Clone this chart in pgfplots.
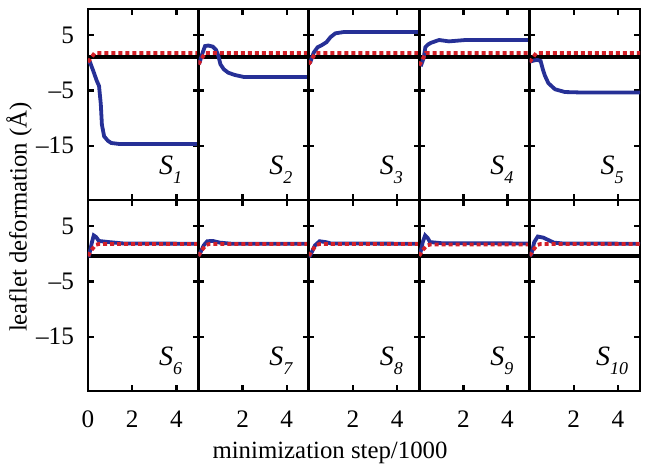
\documentclass[border=0pt]{standalone}
\usepackage{fontspec}
\setmainfont{Liberation Serif}
\usepackage{pgfplots}
\pgfplotsset{compat=1.18}

\definecolor{lineblue}{RGB}{38,48,150}
\definecolor{dotred}{RGB}{212,32,40}

\pgfplotsset{
  panel/.style={
    scale only axis, width=55.2pt, height=95.5pt,
    xmin=0, xmax=5, ymin=-24.8, ymax=9.7,
    axis line style={line width=1.4pt},
    xtick={2,4}, ytick={-15,-5,5},
    xticklabels={}, yticklabels={},
    tick pos=both, tick align=inside,
    major tick length=2.8pt,
    tick style={line width=1.2pt, black},
    ticklabel style={font=\fontsize{12.6}{13}\selectfont},
    /pgf/number format/assume math mode=true,
  },
  leftcol/.style={yticklabels={–15,–5,5}, yticklabel style={xshift=-3.5pt}},
  botrow/.style={xticklabels={2,4}, xticklabel style={yshift=-6.5pt}},
  zeroline/.style={black, line width=1.9pt},
  blueline/.style={lineblue, line width=1.9pt},
  redline/.style={dotred, line width=1.9pt, dash pattern=on 2pt off 1.5pt},
}
\newcommand{\slabel}[2]{\node[anchor=base west, inner sep=0pt, font=\fontsize{14}{14}\selectfont\itshape] at (axis cs:#2,-20.2) {S\raisebox{-0.7ex}{\fontsize{9}{9}\selectfont #1}};}

\begin{document}
\begin{tikzpicture}
\useasboundingbox (-44pt,-39.5pt) rectangle (280.5pt,195.5pt);

% ---------- top row ----------
\begin{axis}[panel, leftcol, at={(0pt,95.5pt)}]
  \addplot[zeroline] coordinates {(0,1.1) (5,1.1)};
  \addplot[blueline] coordinates {
    (0,0.1) (0.1,0) (0.24,-1.5) (0.4,-3.3) (0.5,-4.2) (0.58,-7.5) (0.63,-11.2)
    (0.73,-13.3) (0.9,-14.1) (1.05,-14.5) (1.45,-14.7) (5,-14.7)};
  \addplot[redline] coordinates {(0,0.1) (0.3,1.75) (5,1.75)};
  \slabel{1}{3.2}
\end{axis}
\begin{axis}[panel, at={(55.2pt,95.5pt)}]
  \addplot[zeroline] coordinates {(0,1.1) (5,1.1)};
  \addplot[blueline] coordinates {
    (0,0) (0.05,0) (0.19,1.8) (0.3,3.0) (0.45,3.1) (0.65,2.9) (0.8,2.3) (0.9,1.3)
    (1.0,-0.3) (1.15,-1.2) (1.35,-1.8) (1.63,-2.2) (2.08,-2.6) (5,-2.6)};
  \addplot[redline] coordinates {(0,-0.3) (0.3,1.75) (5,1.75)};
  \slabel{2}{3.2}
\end{axis}
\begin{axis}[panel, at={(110.4pt,95.5pt)}]
  \addplot[zeroline] coordinates {(0,1.1) (5,1.1)};
  \addplot[blueline] coordinates {
    (0,0) (0.07,0.1) (0.22,1.8) (0.4,2.8) (0.6,3.2) (0.8,3.7) (0.98,4.6) (1.2,5.3)
    (1.6,5.55) (5,5.55)};
  \addplot[redline] coordinates {(0,-0.3) (0.3,1.75) (5,1.75)};
  \slabel{3}{3.2}
\end{axis}
\begin{axis}[panel, at={(165.6pt,95.5pt)}]
  \addplot[zeroline] coordinates {(0,1.1) (5,1.1)};
  \addplot[blueline] coordinates {
    (0,-0.1) (0.1,-0.3) (0.2,0.8) (0.28,2.8) (0.4,3.3) (0.54,3.6) (0.9,4.1)
    (1.35,3.85) (2.1,4.1) (5,4.1)};
  \addplot[redline] coordinates {(0,-0.5) (0.3,1.75) (5,1.75)};
  \slabel{4}{3.2}
\end{axis}
\begin{axis}[panel, at={(220.8pt,95.5pt)}]
  \addplot[zeroline] coordinates {(0,1.1) (5,1.1)};
  \addplot[blueline] coordinates {
    (0,0.2) (0.2,0.4) (0.35,0.5) (0.5,0.3) (0.6,-1.2) (0.7,-2.4) (0.85,-3.7)
    (1.15,-4.8) (1.6,-5.3) (2.5,-5.4) (5,-5.4)};
  \addplot[redline] coordinates {(0,0.1) (0.3,1.75) (5,1.75)};
  \slabel{5}{3.2}
\end{axis}

% ---------- bottom row ----------
\begin{axis}[panel, leftcol, botrow, xtick={0,2,4}, xticklabels={0,2,4}, at={(0pt,0pt)}]
  \addplot[zeroline] coordinates {(0,-0.45) (5,-0.45)};
  \addplot[blueline] coordinates {
    (0,-0.3) (0.05,-0.3) (0.18,2.1) (0.26,3.3) (0.37,3.0) (0.49,2.3) (0.94,2.1)
    (1.6,1.85) (5,1.8)};
  \addplot[redline] coordinates {(0,-0.4) (0.15,0.6) (0.35,1.6) (0.5,1.75) (5,1.75)};
  \slabel{6}{3.2}
\end{axis}
\begin{axis}[panel, botrow, at={(55.2pt,0pt)}]
  \addplot[zeroline] coordinates {(0,-0.45) (5,-0.45)};
  \addplot[blueline] coordinates {
    (0,-0.3) (0.05,-0.15) (0.24,1.5) (0.4,2.25) (0.65,2.3) (0.97,2.0) (1.5,1.8) (5,1.8)};
  \addplot[redline] coordinates {(0,-0.4) (0.15,0.6) (0.35,1.6) (0.5,1.75) (5,1.75)};
  \slabel{7}{3.2}
\end{axis}
\begin{axis}[panel, botrow, at={(110.4pt,0pt)}]
  \addplot[zeroline] coordinates {(0,-0.45) (5,-0.45)};
  \addplot[blueline] coordinates {
    (0,-0.5) (0.06,-0.35) (0.28,1.5) (0.49,2.25) (0.76,2.1) (1.0,1.85) (5,1.8)};
  \addplot[redline] coordinates {(0,-0.4) (0.15,0.6) (0.35,1.6) (0.5,1.75) (5,1.75)};
  \slabel{8}{3.2}
\end{axis}
\begin{axis}[panel, botrow, at={(165.6pt,0pt)}]
  \addplot[zeroline] coordinates {(0,-0.45) (5,-0.45)};
  \addplot[blueline] coordinates {
    (0,-0.3) (0.06,0.2) (0.16,2.1) (0.27,3.3) (0.39,2.8) (0.49,2.1) (1.0,1.9) (5,1.85)};
  \addplot[redline] coordinates {(0,-0.4) (0.15,0.6) (0.35,1.5) (0.5,1.65) (5,1.65)};
  \slabel{9}{3.2}
\end{axis}
\begin{axis}[panel, botrow, at={(220.8pt,0pt)}]
  \addplot[zeroline] coordinates {(0,-0.45) (5,-0.45)};
  \addplot[blueline] coordinates {
    (0,-0.3) (0.08,-0.15) (0.21,2.1) (0.37,3.1) (0.62,2.9) (0.86,2.45) (1.1,2.0)
    (1.5,1.85) (5,1.8)};
  \addplot[redline] coordinates {(0,-0.4) (0.15,0.6) (0.35,1.6) (0.5,1.75) (5,1.75)};
  \slabel{10}{3.0}
\end{axis}

% axis titles
\node[rotate=90, font=\fontsize{12.4}{13}\selectfont] at (-34.5pt,87pt) {leaflet deformation (Å)};
\node[font=\fontsize{12.4}{13}\selectfont] at (121pt,-31pt) {minimization step/1000};
\end{tikzpicture}
\end{document}
